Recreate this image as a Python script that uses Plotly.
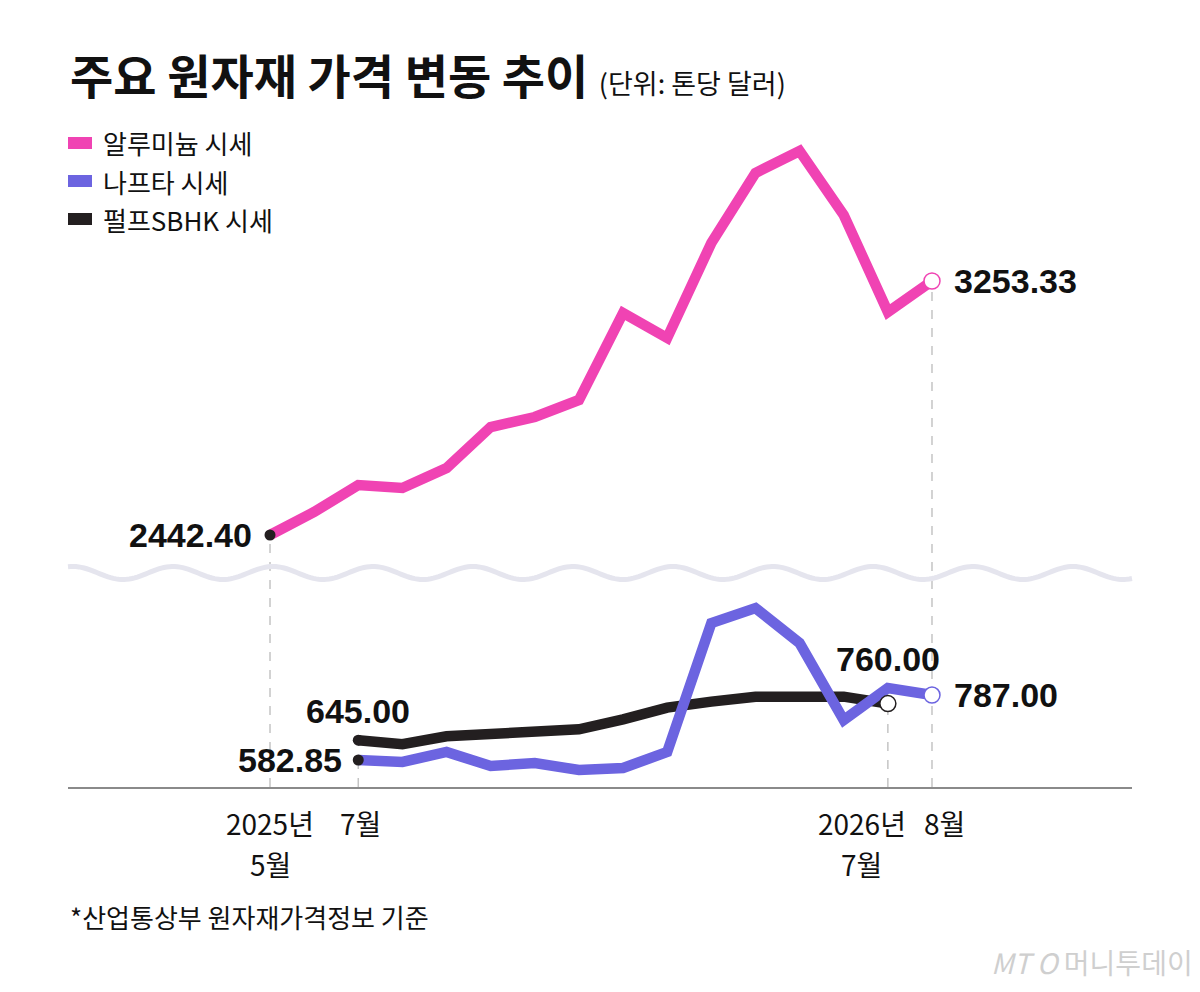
import numpy as np
import plotly.graph_objects as go

# monthly prices, USD per ton
months = ["2025-05", "2025-06", "2025-07", "2025-08", "2025-09", "2025-10", "2025-11", "2025-12",
          "2026-01", "2026-02", "2026-03", "2026-04", "2026-05", "2026-06", "2026-07", "2026-08"]
alu = [2442.40, 2515.8, 2602.0, 2592.5, 2656.3, 2787.2, 2819.1, 2873.4,
       3151.2, 3071.4, 3374.7, 3598.2, 3668.4, 3464.1, 3154.4, 3253.33]
naphtha_months = months[2:]
naphtha = [582.85, 576.6, 608.0, 564.0, 573.4, 551.4, 557.7, 608.0,
           1013.1, 1060.3, 950.3, 708.5, 809.0, 787.00]
pulp_months = months[2:15]
pulp = [645.00, 632.6, 657.4, 666.8, 673.0, 679.2, 710.3, 747.6,
        766.2, 781.8, 781.8, 781.8, 760.00]

names = ["알루미늄 시세", "나프타 시세", "펄프SBHK 시세"]
# (month, line1, line2)
tick_text = [("2025-05", "2025년", "5월"), ("2025-07", "7월", ""),
             ("2026-07", "2026년", "7월"), ("2026-08", "8월", "")]

PINK = "#f043b3"
PURPLE = "#6c64e0"
BLACK = "#231f20"
KR = "Noto Sans CJK KR"
NUM = "Liberation Sans, Arial, sans-serif"

W, H = 1200, 992
# page body adds 8px, so margins are set to land the plot at 68..1132 / 100..787 on screen
L, R, T, B = 60, 76, 92, 213
pw = W - L - R
ph = H - T - B
X0, Y_AXIS = 68, 787

def px2paper(ypx):
    return (Y_AXIS - ypx) / ph

def xpx2paper(xpx):
    return (xpx - X0) / pw

dom_lo = [0, px2paper(590)]
dom_hi = [px2paper(560), 1]
rng_lo = [498.0, 1117.0]
rng_hi = [2362.6, 3831.2]

def to_paper(v, dom, rng):
    return dom[0] + (v - rng[0]) / (rng[1] - rng[0]) * (dom[1] - dom[0])

fig = go.Figure()
fig.add_trace(go.Scatter(x=months, y=alu, yaxis="y2", mode="lines",
                         line=dict(color=PINK, width=10.5), hoverinfo="skip"))
fig.add_trace(go.Scatter(x=pulp_months, y=pulp, mode="lines",
                         line=dict(color=BLACK, width=10.5), hoverinfo="skip"))
fig.add_trace(go.Scatter(x=naphtha_months, y=naphtha, mode="lines",
                         line=dict(color=PURPLE, width=10.5), hoverinfo="skip"))

# start dots / end circles
for xs, ys, col, ax in [(months, alu, PINK, "y2"), (pulp_months, pulp, BLACK, "y"),
                        (naphtha_months, naphtha, PURPLE, "y")]:
    fig.add_trace(go.Scatter(x=[xs[0]], y=[ys[0]], yaxis=ax, mode="markers", cliponaxis=False,
                             marker=dict(size=11, color=BLACK), hoverinfo="skip"))
    fig.add_trace(go.Scatter(x=[xs[-1]], y=[ys[-1]], yaxis=ax, mode="markers", cliponaxis=False,
                             marker=dict(size=16, color="white", line=dict(color=col, width=1.5)),
                             hoverinfo="skip"))

# dashed guides down to the baseline
guides = [(months[0], to_paper(alu[0], dom_hi, rng_hi)),
          (naphtha_months[0], to_paper(naphtha[0], dom_lo, rng_lo)),
          (pulp_months[-1], to_paper(pulp[-1], dom_lo, rng_lo)),
          (months[-1], to_paper(alu[-1], dom_hi, rng_hi))]
for gx, gy in guides:
    fig.add_shape(type="line", xref="x", yref="paper", x0=gx, x1=gx, y0=0, y1=gy,
                  line=dict(color="#c4c4c4", width=1.5, dash="dash"), layer="below")

# wavy break mark
wx = np.linspace(X0, X0 + pw, 400)
wy = 573 - 6.5 * np.cos(2 * np.pi * (wx - 273) / 100)
path = "M " + " L ".join(f"{xpx2paper(a):.5f},{px2paper(b):.5f}" for a, b in zip(wx, wy))
fig.add_shape(type="path", xref="paper", yref="paper", path=path,
              line=dict(color="#e5e5ee", width=5))

# value labels
labels = [
    (months[0], alu[0], "y2", "2442.40", "right", "middle", -16, 0),
    (months[-1], alu[-1], "y2", "3253.33", "left", "middle", 20, 0),
    (pulp_months[0], pulp[0], "y", "645.00", "center", "bottom", 0, 8),
    (naphtha_months[0], naphtha[0], "y", "582.85", "right", "middle", -14, 0),
    (pulp_months[-1], pulp[-1], "y", "760.00", "center", "bottom", 0, 24),
    (naphtha_months[-1], naphtha[-1], "y", "787.00", "left", "middle", 20, 0),
]
for x, y, ax, txt, xa, ya, dx, dy in labels:
    fig.add_annotation(x=x, y=y, yref=ax, text=f"<b>{txt}</b>", showarrow=False,
                       xanchor=xa, yanchor=ya, xshift=dx, yshift=dy,
                       font=dict(family=NUM, size=34, color="#111111"))

# x labels, one annotation per line
shifts = {"2025-05": 0, "2025-07": 2, "2026-07": -26, "2026-08": 13}
for m, l1, l2 in tick_text:
    for txt, cy in [(l1, 823), (l2, 864)]:
        if txt:
            fig.add_annotation(x=m, y=px2paper(cy), yref="paper", text=txt, showarrow=False,
                               xanchor="center", yanchor="middle", xshift=shifts[m],
                               font=dict(family=KR, size=28, color="#111111"))

# legend
for i, (nm, col) in enumerate(zip(names, [PINK, PURPLE, BLACK])):
    cy = 143 + 38 * i
    fig.add_shape(type="rect", xref="paper", yref="paper", x0=0, x1=xpx2paper(X0 + 24),
                  y0=px2paper(cy + 6), y1=px2paper(cy - 6), fillcolor=col, line_width=0)
    fig.add_annotation(x=xpx2paper(101), y=px2paper(cy), xref="paper", yref="paper",
                       text=nm, showarrow=False, xanchor="left", yanchor="middle",
                       font=dict(family=KR, size=26, color="#111111"))

fig.add_annotation(x=0, y=px2paper(73), xref="paper", yref="paper", showarrow=False,
                   xanchor="left", yanchor="middle",
                   text="<b>주요 원자재 가격 변동 추이</b> <span style='font-size:27px'>(단위: 톤당 달러)</span>",
                   font=dict(family=KR, size=47, color="#111111"))
fig.add_annotation(x=0, y=px2paper(916), xref="paper", yref="paper", showarrow=False,
                   xanchor="left", yanchor="middle", text="*산업통상부 원자재가격정보 기준",
                   font=dict(family=KR, size=26, color="#111111"))
fig.add_annotation(x=xpx2paper(1195), y=px2paper(962), xref="paper", yref="paper",
                   showarrow=False, xanchor="right", yanchor="middle",
                   text="<i>MT</i> <i>O</i> 머니투데이",
                   font=dict(family=KR, size=28, color="#cfcfcf"))

fig.update_layout(
    width=W, height=H, margin=dict(l=L, r=R, t=T, b=B),
    paper_bgcolor="white", plot_bgcolor="white", showlegend=False,
    xaxis=dict(type="category", categoryorder="array", categoryarray=months,
               range=[-(270 - X0) / 44.13, 15 + (X0 + pw - 932) / 44.13],
               showgrid=False, zeroline=False, showticklabels=False, ticks="",
               showline=True, linecolor="#8a8a8a", linewidth=1.5, anchor="y"),
    yaxis=dict(domain=dom_lo, range=rng_lo, visible=False),
    yaxis2=dict(domain=dom_hi, range=rng_hi, visible=False, anchor="x"),
)

fig.write_html("out.html")
